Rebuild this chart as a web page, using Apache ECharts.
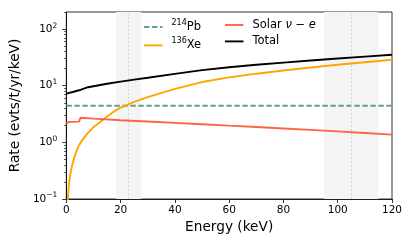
<!DOCTYPE html>
<html>
<head>
<meta charset="utf-8">
<script src="https://cdn.jsdelivr.net/npm/echarts@6/dist/echarts.min.js"></script>
<style>html,body{margin:0;padding:0;background:#fff;}#c{width:415px;height:249px;}</style>
</head>
<body>
<div id="c"></div>
<script>
// ---- data ----
var pbEnergy = [0, 120];
var pbRate = [4.44, 4.44];

var xeEnergy = [0.4, 0.7, 1, 1.5, 2, 3, 4, 5, 6, 8, 10, 12, 15, 18, 20, 25, 30, 40, 50, 60, 70, 80, 90, 100, 110, 120];
var xeRate   = [0.075, 0.13, 0.19, 0.28, 0.37, 0.55, 0.76, 0.94, 1.12, 1.47, 1.85, 2.2, 2.85, 3.6, 4.1, 5.2, 6.3, 8.8, 11.6, 14.0, 16.3, 18.6, 21.0, 23.4, 26.0, 28.7];

var solarEnergy = [0, 0.6, 1.0, 1.3, 4.7, 4.9, 5.2, 10, 20, 30, 40, 50, 60, 70, 80, 90, 100, 110, 120];
var solarRate   = [2.15, 2.2, 2.3, 2.32, 2.32, 2.3, 2.72, 2.62, 2.45, 2.33, 2.21, 2.09, 1.97, 1.87, 1.76, 1.66, 1.56, 1.46, 1.37];

var totalEnergy = [0, 1, 2, 3, 4.7, 5.2, 8, 10, 15, 20, 25, 30, 40, 50, 60, 70, 80, 90, 100, 110, 120];
var totalRate   = [7.2, 7.45, 7.65, 7.9, 8.3, 8.9, 9.4, 9.8, 10.8, 11.8, 12.8, 13.8, 16.2, 18.8, 21.2, 23.4, 25.6, 27.9, 30.2, 32.6, 35.2];

var roiBands = [[18.4, 27.6], [95, 115]];
var roiCenters = [23, 105];

var xTicks = [0, 20, 40, 60, 80, 100, 120];
var yMajorTicks = [0.1, 1, 10, 100];
var yMinorTicks = [0.2,0.3,0.4,0.5,0.6,0.7,0.8,0.9, 2,3,4,5,6,7,8,9, 20,30,40,50,60,70,80,90, 200];

var legendLabels = {
  'Pb214': '{sup|214}{n|Pb}',
  'Xe136': '{sup|136}{n|Xe}',
  'Solar': '{n|Solar }{it|ν}{n| − }{it|e}',
  'Total': '{n|Total}'
};

function zip(a, b) { return a.map(function (v, i) { return [v, b[i]]; }); }

var FONT = 'DejaVu Sans';
var LW = 1.9;
var chart = echarts.init(document.getElementById('c'), null, {renderer: 'canvas'});

var legendRich = {
  n: {fontSize: 11.5, fontFamily: FONT, color: '#000'},
  it: {fontSize: 11.5, fontFamily: FONT, fontStyle: 'italic', color: '#000'},
  sup: {fontSize: 8, fontFamily: FONT, color: '#000', padding: [0, 0, 8, 0]}
};

function legendCfg(names, left) {
  return {
    data: names,
    orient: 'vertical',
    left: left, top: 19,
    padding: 0,
    itemWidth: 18.5, itemHeight: 14, itemGap: 4.4,
    itemStyle: {opacity: 0},
    lineStyle: {width: LW},
    textStyle: {fontFamily: FONT, fontSize: 11.5, color: '#000', padding: [0, 0, 0, 4], rich: legendRich},
    formatter: function (name) { return legendLabels[name]; },
    selectedMode: false
  };
}

var option = {
  animation: false,
  backgroundColor: '#fff',
  grid: {left: 64, right: 23, top: 12, bottom: 50, show: true, borderColor: '#000', borderWidth: 0.8, backgroundColor: 'transparent'},
  legend: [legendCfg(['Pb214', 'Xe136'], 143), legendCfg(['Solar', 'Total'], 224)],
  xAxis: {
    type: 'value', min: xTicks[0], max: xTicks[xTicks.length - 1], interval: 20,
    name: 'Energy (keV)', nameLocation: 'middle', nameGap: 21,
    nameTextStyle: {fontFamily: FONT, fontSize: 13.7, color: '#000'},
    axisLine: {show: true, lineStyle: {color: '#000', width: 0.8}},
    axisTick: {show: true, inside: false, length: 4, lineStyle: {color: '#000', width: 0.8}},
    axisLabel: {fontFamily: FONT, fontSize: 10.5, color: '#000', margin: 6},
    splitLine: {show: false}
  },
  yAxis: [{
    type: 'log', logBase: 10, min: 0.1, max: 200,
    name: 'Rate (evts/t/yr/keV)', nameLocation: 'middle', nameGap: 38,
    nameTextStyle: {fontFamily: FONT, fontSize: 13.7, color: '#000'},
    axisLine: {show: true, lineStyle: {color: '#000', width: 0.8}},
    axisTick: {show: true, inside: false, length: 4, customValues: yMajorTicks, lineStyle: {color: '#000', width: 0.8}},
    axisLabel: {
      customValues: yMajorTicks, margin: 9,
      formatter: function (v) {
        var e = Math.round(Math.log10(v));
        return '{b|10}{s|' + (e < 0 ? '−' + (-e) : e) + '}';
      },
      rich: {
        b: {fontFamily: FONT, fontSize: 10.5, color: '#000'},
        s: {fontFamily: FONT, fontSize: 7.5, color: '#000', padding: [0, 0, 7, 0]}
      }
    },
    splitLine: {show: false}
  }, {
    type: 'log', logBase: 10, min: 0.1, max: 200, position: 'left',
    axisLine: {show: false},
    axisTick: {show: true, inside: false, length: 2.3, customValues: yMinorTicks, lineStyle: {color: '#000', width: 0.6}},
    axisLabel: {show: false},
    splitLine: {show: false}
  }],
  series: [
    {
      name: 'bands', type: 'line', data: [], z: 1, silent: true,
      markArea: {silent: true, itemStyle: {color: '#f4f4f4'},
        data: roiBands.map(function (b) { return [{xAxis: b[0]}, {xAxis: b[1]}]; })},
      markLine: {silent: true, symbol: 'none', label: {show: false},
        lineStyle: {color: '#cfcfcf', width: 0.8, type: [2, 2]},
        data: roiCenters.map(function (c) { return {xAxis: c}; })}
    },
    {name: 'Pb214', type: 'line', data: zip(pbEnergy, pbRate), symbol: 'none', z: 3,
      lineStyle: {color: '#5f9ea0', width: LW, type: [5.5, 2.5]}, itemStyle: {color: '#5f9ea0'}},
    {name: 'Xe136', type: 'line', data: zip(xeEnergy, xeRate), symbol: 'none', z: 4,
      lineStyle: {color: '#ffa500', width: LW}, itemStyle: {color: '#ffa500'}},
    {name: 'Solar', type: 'line', data: zip(solarEnergy, solarRate), symbol: 'none', z: 5,
      lineStyle: {color: '#ff6347', width: LW}, itemStyle: {color: '#ff6347'}},
    {name: 'Total', type: 'line', data: zip(totalEnergy, totalRate), symbol: 'none', z: 6,
      lineStyle: {color: '#000', width: LW}, itemStyle: {color: '#000'}}
  ]
};
chart.setOption(option);
</script>
</body>
</html>
